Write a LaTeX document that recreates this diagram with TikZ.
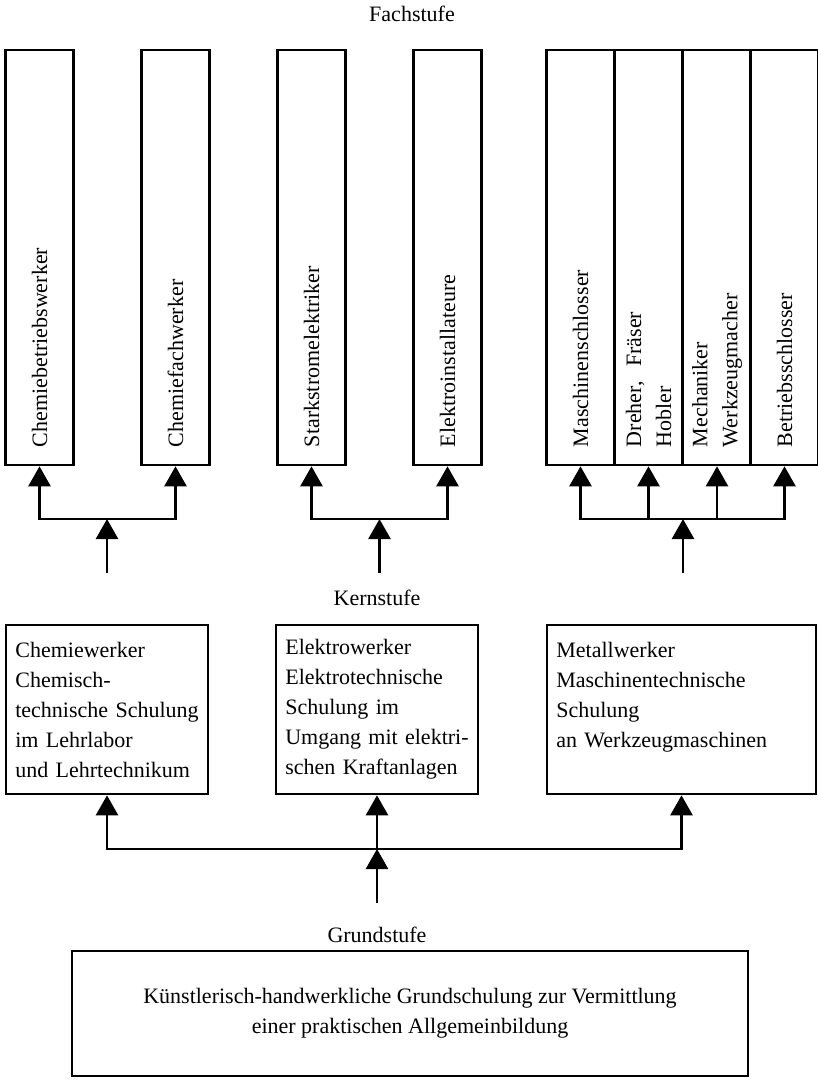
\documentclass[tikz,border=0pt]{standalone}
\usepackage{fontspec}
\setmainfont{Liberation Serif}
\usetikzlibrary{arrows.meta}
\tikzset{
  stufe/.style = {align=left, inner sep=0pt,
    font=\fontsize{16.5}{22.5}\selectfont},
  beruf/.style = {stufe, draw=black, line width=2pt, rotate=90,
    minimum height=51pt, text width=284.25pt, inner xsep=13.5pt},% Fachstufe, ein Beruf
  kern_box/.style = {stufe, draw=black, line width=2pt, inner xsep=7pt,
    minimum height=126.75pt},% Kernstufe
  grund_box/.style = {stufe, draw=black, line width=2pt, align=center,
    minimum width=507pt, minimum height=93.75pt},% Grundstufe
  titel/.style = {stufe, align=center},
  linie/.style = {line width=2pt, line cap=rect},
  pfeil/.style = {line width=2pt, -{Triangle[width=16.5pt,length=15pt]}}
}
\begin{document}
\begin{tikzpicture}[x=0.75pt, y=-0.75pt]
\useasboundingbox (0,0) rectangle (818,1083);

\node[titel] (fach) at (412,14) {Fachstufe};
\node[beruf] (f1) at (39.5,257.5) {Chemiebetriebswerker};
\node[beruf] (f2) at (175.5,257.5) {Chemiefachwerker};
\node[beruf] (f3) at (311.5,257.5) {Starkstromelektriker};
\node[beruf] (f4) at (447.5,257.5) {Elektroinstallateure};
\node[beruf] (f5) at (580.5,257.5) {Maschinenschlosser};
\node[beruf] (f6) at (648.5,257.5) {Dreher, \ Fräser\\Hobler};
\node[beruf] (f7) at (717,257.5) {Mechaniker\\Werkzeugmacher};
\node[beruf] (f8) at (784.5,257.5) {Betriebsschlosser};

\node[titel] (kern) at (377,598) {Kernstufe};
\node[kern_box, text width=137.5pt] (k1) at (107,709.5)
	{Chemiewerker\\Chemisch-\\technische Schulung\\im Lehrlabor\\und Lehrtechnikum};
\node[kern_box, text width=137.5pt] (k2) at (377,709.5)
	{Elektrowerker\\Elektrotechnische\\Schulung im\\Umgang mit elektri-\\schen Kraftanlagen};
\node[kern_box, text width=187.75pt] (k3) at (681.5,709.5)
	{Metallwerker\\Maschinentechnische\\Schulung\\an Werkzeugmaschinen\\\mbox{}};

\node[titel] (grund) at (377,935) {Grundstufe};
\node[grund_box] (g) at (410,1013.5)
	{Künstlerisch-handwerkliche Grundschulung zur Vermittlung\\einer praktischen Allgemeinbildung};

% Kernstufe -> Fachstufe
\coordinate (v1) at (107,519);
\coordinate (v2) at (379.5,519);
\coordinate (v3) at (683,519);
\draw[linie] (v1 -| f1.west) -- (v1 -| f2.west);
\draw[linie] (v2 -| f3.west) -- (v2 -| f4.west);
\draw[linie] (v3 -| f5.west) -- (v3 -| f8.west);
\foreach \n in {f1,f2} \draw[pfeil] (v1 -| \n.west) -- (\n.west);
\foreach \n in {f3,f4} \draw[pfeil] (v2 -| \n.west) -- (\n.west);
\foreach \n in {f5,f6,f7,f8} \draw[pfeil] (v3 -| \n.west) -- (\n.west);
\foreach \v in {v1,v2,v3} \draw[pfeil] (\v) ++(0,54) -- (\v);

% Grundstufe -> Kernstufe
\coordinate (w) at (377,849);
\coordinate (w0) at (377,903);
\draw[linie] (w -| k1.south) -- (w -| k3.south);
\foreach \n in {k1,k2,k3} \draw[pfeil] (w -| \n.south) -- (\n.south);
\draw[pfeil] (w0) -- (w);
\end{tikzpicture}
\end{document}
